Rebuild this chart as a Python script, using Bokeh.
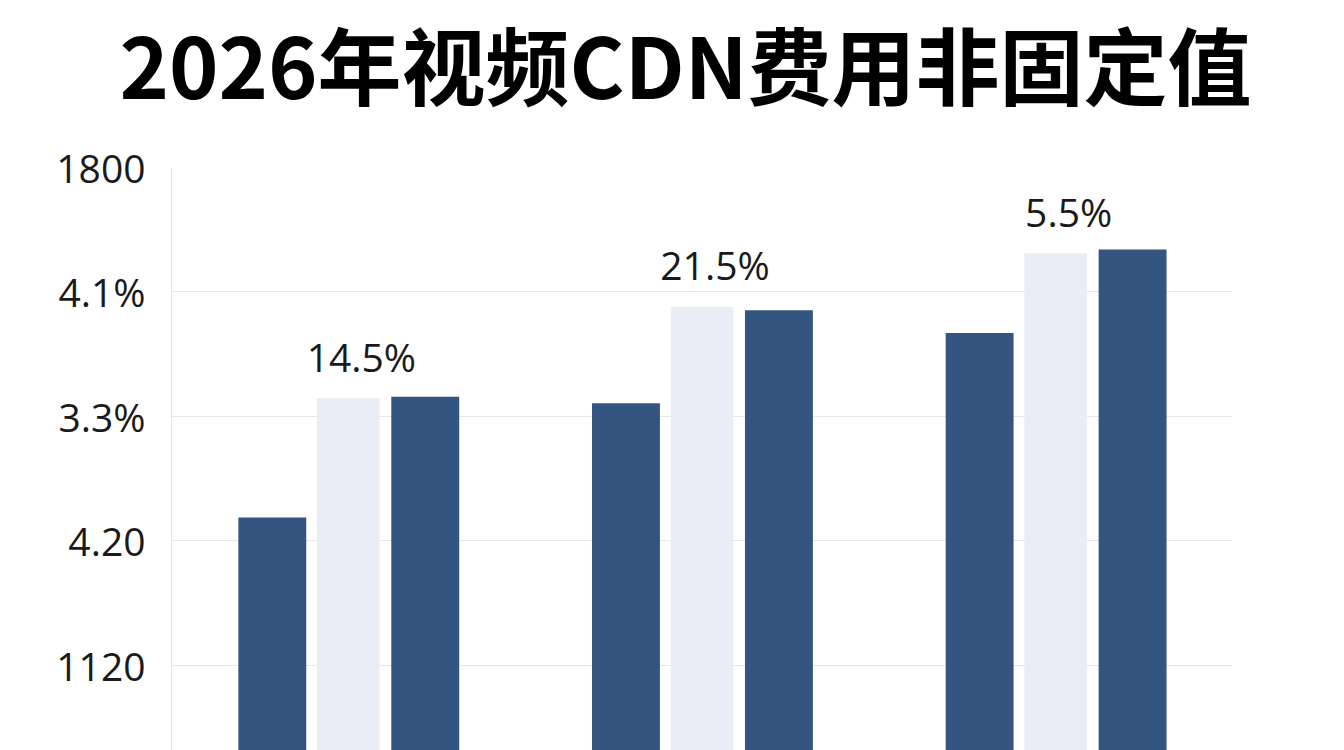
from bokeh.plotting import figure
from bokeh.models import ColumnDataSource, FactorRange, Range1d, FixedTicker
from bokeh.layouts import column
from bokeh.transform import dodge
from bokeh.core.properties import value
from bokeh.embed import file_html
from bokeh.resources import INLINE

# ---- data ----
categories = ["组一", "组二", "组三"]
series_left = [1322, 1478, 1574]
series_mid = [1485, 1610, 1683]
series_right = [1487, 1605, 1688]
mid_labels = ["14.5%", "21.5%", "5.5%"]
ytick_values = [1120, 1290, 1460, 1630, 1800]
ytick_labels = ["1120", "4.20", "3.3%", "4.1%", "1800"]
title_text = "2026年视频CDN费用非固定值"

DARK = "#34557f"
LIGHT = "#e9edf5"

W = 1344
TITLE_H = 130
MAIN_H = 750 - TITLE_H

# ---- title strip ----
tfig = figure(width=W, height=TITLE_H, x_range=Range1d(0, W), y_range=Range1d(0, TITLE_H),
              output_backend="svg", toolbar_location=None,
              x_axis_location=None, y_axis_location=None, min_border=0,
              background_fill_color="white", border_fill_color="white")
tfig.frame_align = False
tfig.outline_line_color = None
tfig.grid.visible = False
tfig.text(x=[W / 2], y=[TITLE_H], text=[title_text], x_offset=13, y_offset=1,
          text_align="center", text_baseline="top",
          text_font=value("Noto Sans CJK SC"), text_font_style="bold",
          text_font_size="84px", text_color="#000000")

# ---- main chart ----
source = ColumnDataSource(dict(cat=categories, a=series_left, b=series_mid,
                               c=series_right, lab=mid_labels))

p = figure(x_range=FactorRange(factors=categories), y_range=Range1d(1003.9, 1800),
           width=W, height=MAIN_H, output_backend="svg", toolbar_location=None,
           x_axis_location=None, min_border_left=171, min_border_right=112,
           min_border_top=167 - TITLE_H, min_border_bottom=0,
           background_fill_color="white", border_fill_color="white")
p.frame_align = False
p.outline_line_color = None

p.vbar(x=dodge("cat", -0.215, range=p.x_range), top="a", bottom=0, width=0.192,
       source=source, fill_color=DARK, line_color=None)
p.vbar(x=dodge("cat", 0.0, range=p.x_range), top="b", bottom=0, width=0.177,
       source=source, fill_color=LIGHT, line_color=None)
p.vbar(x=dodge("cat", 0.2175, range=p.x_range), top="c", bottom=0, width=0.192,
       source=source, fill_color=DARK, line_color=None)

p.text(x=dodge("cat", 0.0, range=p.x_range), y="b", text="lab", source=source,
       x_offset=13, y_offset=-42, text_align="center", text_baseline="middle",
       text_font=value("Open Sans"), text_font_size="39px", text_color="#1a1a1a")

yax = p.yaxis[0]
yax.ticker = FixedTicker(ticks=ytick_values)
yax.major_label_overrides = {v: l for v, l in zip(ytick_values, ytick_labels)}
yax.major_label_text_font = "Open Sans"
yax.major_label_text_font_size = "39px"
yax.major_label_text_color = "#1a1a1a"
yax.major_label_standoff = 20
yax.axis_line_color = "#e3e3e3"
yax.major_tick_line_color = None
yax.minor_tick_line_color = None

p.xgrid.grid_line_color = None
p.ygrid.grid_line_color = "#e6e6e6"
p.ygrid.grid_line_width = 1

layout = column(tfig, p, spacing=0)
open("out.html", "w").write(file_html(layout, INLINE))
